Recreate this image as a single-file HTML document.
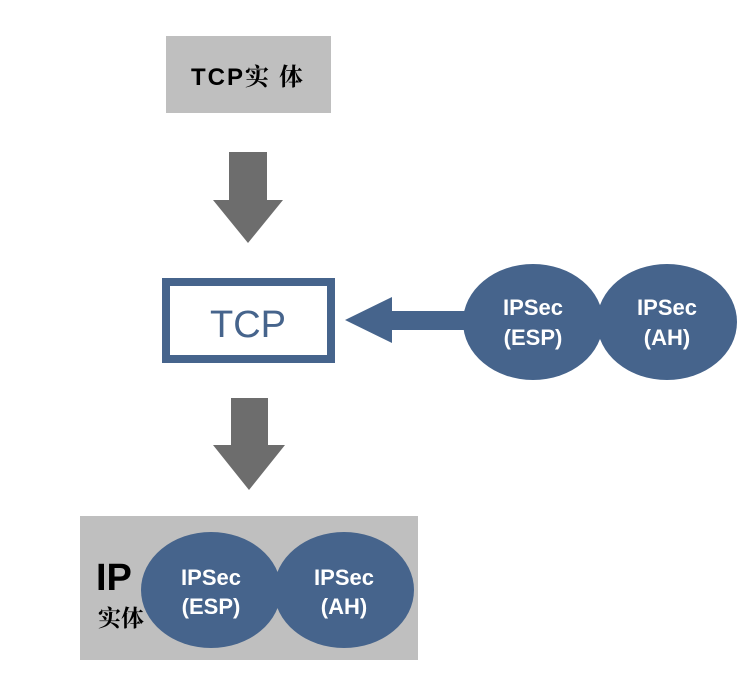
<!DOCTYPE html>
<html><head><meta charset="utf-8"><style>
body{margin:0;background:#fff;width:748px;height:676px;overflow:hidden}
</style></head><body>
<svg width="748" height="676" xmlns="http://www.w3.org/2000/svg">
<rect x="166" y="36" width="165" height="77" fill="#bfbfbf"/>
<text x="248" y="85" text-anchor="middle" font-family="Liberation Sans, Noto Sans CJK SC, sans-serif" font-weight="bold" font-size="24" fill="#000" letter-spacing="2">TCP<tspan font-family="Noto Serif CJK SC, serif">实 体</tspan></text>
<polygon points="229,152 267,152 267,200 283,200 248,243 213,200 229,200" fill="#6d6d6d"/>
<rect x="166" y="282" width="165" height="77" fill="#fff" stroke="#46648c" stroke-width="8"/>
<text x="248" y="337" text-anchor="middle" font-family="Liberation Sans, sans-serif" font-size="38" fill="#46648c">TCP</text>
<polygon points="231,398 268,398 268,445 285,445 249,490 213,445 231,445" fill="#6d6d6d"/>
<polygon points="345,320 392,297 392,311 465,311 465,330 392,330 392,343" fill="#46648c"/>
<ellipse cx="533" cy="322" rx="70" ry="58" fill="#46648c"/>
<ellipse cx="667" cy="322" rx="70" ry="58" fill="#46648c"/>
<g font-family="Liberation Sans, sans-serif" font-weight="bold" font-size="22" fill="#fff" text-anchor="middle">
<text x="533" y="315">IPSec</text><text x="533" y="345">(ESP)</text>
<text x="667" y="315">IPSec</text><text x="667" y="345">(AH)</text>
</g>
<rect x="80" y="516" width="338" height="144" fill="#bfbfbf"/>
<text x="96" y="590" font-family="Liberation Sans, sans-serif" font-weight="bold" font-size="38" fill="#000">IP</text>
<text x="98" y="626" font-family="Noto Serif CJK SC, serif" font-weight="bold" font-size="23" fill="#000">实体</text>
<ellipse cx="211" cy="590" rx="70" ry="58" fill="#46648c"/>
<ellipse cx="344" cy="590" rx="70" ry="58" fill="#46648c"/>
<g font-family="Liberation Sans, sans-serif" font-weight="bold" font-size="22" fill="#fff" text-anchor="middle">
<text x="211" y="585">IPSec</text><text x="211" y="614">(ESP)</text>
<text x="344" y="585">IPSec</text><text x="344" y="614">(AH)</text>
</g>
</svg>
</body></html>
